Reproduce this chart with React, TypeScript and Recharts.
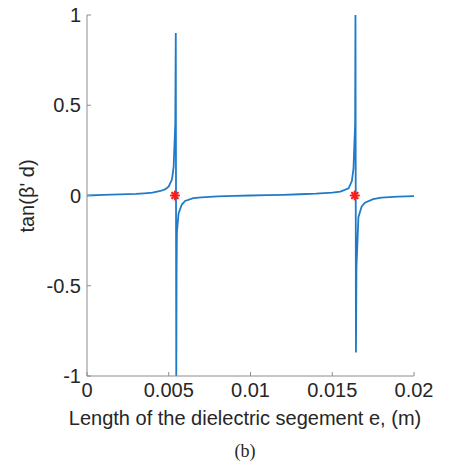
import {
  ComposedChart,
  Line,
  Scatter,
  XAxis,
  YAxis,
  Label,
} from 'recharts'

// curve samples: length e (m) vs tan(beta' d)
const lengths = [
  0, 0.001, 0.002, 0.003, 0.0035, 0.004, 0.0045, 0.0048, 0.005, 0.0052, 0.0053, 0.0054, 0.00543,
  0.00546, 0.00548, 0.0055, 0.0056, 0.0058, 0.006, 0.0065, 0.007, 0.008, 0.009, 0.01,
  0.011, 0.012, 0.013, 0.014, 0.015, 0.0155, 0.016, 0.0162, 0.0163, 0.0164, 0.01642,
  0.01645, 0.01648, 0.0166, 0.0168, 0.017, 0.0175, 0.018, 0.019, 0.02,
]
const tanValues = [
  0, 0.003, 0.006, 0.009, 0.012, 0.016, 0.025, 0.035, 0.05, 0.09, 0.16, 0.4, 0.9,
  -1.02, -0.4, -0.2, -0.1, -0.05, -0.03, -0.015, -0.01, -0.005, -0.002, 0,
  0.002, 0.004, 0.007, 0.01, 0.016, 0.022, 0.04, 0.08, 0.15, 0.4, 1.05,
  -0.87, -0.4, -0.12, -0.06, -0.04, -0.02, -0.012, -0.006, -0.003,
]

// zero crossings marked in red
const rootX = [0.00538, 0.01638]
const rootY = [0, 0]

const xTicks = [0, 0.005, 0.01, 0.015, 0.02]
const yTicks = [-1, -0.5, 0, 0.5, 1]

const curve = lengths.map((x, i) => ({ x, y: tanValues[i] }))
const roots = rootX.map((x, i) => ({ x, y: rootY[i] }))

const AXIS = '#8c8c8c'
const TEXT = '#262626'
const FONT = '"Liberation Sans", Arial, sans-serif'

const BottomTick = (props: any) => {
  const { x, y, payload } = props
  const axisY = y - 7
  return (
    <g>
      <line x1={x} x2={x} y1={axisY} y2={axisY - 4} stroke={AXIS} />
      <text x={x} y={y} dy="0.71em" textAnchor="middle" fill={TEXT} fontSize={20} fontFamily={FONT}>
        {payload.value}
      </text>
    </g>
  )
}

const LeftTick = (props: any) => {
  const { x, y, payload } = props
  const axisX = x + 6
  return (
    <g>
      <line x1={axisX} x2={axisX + 4} y1={y} y2={y} stroke={AXIS} />
      <text x={x} y={y} dy="0.35em" textAnchor="end" fill={TEXT} fontSize={20} fontFamily={FONT}>
        {payload.value}
      </text>
    </g>
  )
}

const TopTick = (props: any) => {
  const { x, y } = props
  return <line x1={x} x2={x} y1={y} y2={y + 4} stroke={AXIS} />
}

const RightTick = (props: any) => {
  const { x, y } = props
  return <line x1={x} x2={x - 4} y1={y} y2={y} stroke={AXIS} />
}

// MATLAB-style '*' marker
const Asterisk = (props: any) => {
  const { cx, cy } = props
  const r = 4
  const d = r * 0.7
  return (
    <g stroke="#ff1a1a" strokeWidth={2.2} strokeLinecap="round">
      <line x1={cx - r} x2={cx + r} y1={cy} y2={cy} />
      <line x1={cx} x2={cx} y1={cy - r} y2={cy + r} />
      <line x1={cx - d} x2={cx + d} y1={cy - d} y2={cy + d} />
      <line x1={cx - d} x2={cx + d} y1={cy + d} y2={cy - d} />
    </g>
  )
}

export default function App() {
  return (
    <div style={{ background: '#fff', width: 453, height: 464, margin: '-8px 0 0 -8px' }}>
      <ComposedChart width={453} height={464} margin={{ top: 15, right: 39, left: 27, bottom: 0 }}>
        <XAxis
          xAxisId="b"
          dataKey="x"
          type="number"
          domain={[0, 0.02]}
          ticks={xTicks}
          allowDataOverflow
          stroke={AXIS}
          tickLine={false}
          tickSize={0}
          tickMargin={7}
          tick={<BottomTick />}
          height={88}
        >
          <Label
            content={() => (
              <g>
                <text x={245} y={418} dominantBaseline="central" textAnchor="middle" fill={TEXT} fontSize={20} fontFamily={FONT}>
                  Length of the dielectric segement e, (m)
                </text>
                <text x={245} y={451} dominantBaseline="central" textAnchor="middle" fill={TEXT} fontSize={18} fontFamily='"Liberation Serif", "Times New Roman", serif'>
                  (b)
                </text>
              </g>
            )}
          />
        </XAxis>
        <XAxis
          xAxisId="t"
          orientation="top"
          dataKey="x"
          type="number"
          domain={[0, 0.02]}
          ticks={xTicks}
          allowDataOverflow
          stroke={AXIS}
          tickLine={false}
          tickSize={0}
          tickMargin={0}
          tick={<TopTick />}
          height={0}
        />
        <YAxis
          yAxisId="l"
          type="number"
          domain={[-1, 1]}
          ticks={yTicks}
          allowDataOverflow
          stroke={AXIS}
          tickLine={false}
          tickSize={0}
          tickMargin={6}
          tick={<LeftTick />}
          width={60}
        >
          <Label
            content={() => (
              <text
                x={27}
                y={196}
                transform="rotate(-90 27 196)"
                dominantBaseline="central"
                textAnchor="middle"
                fill={TEXT}
                fontSize={20}
                fontFamily={FONT}
              >
                tan(β' d)
              </text>
            )}
          />
        </YAxis>
        <YAxis
          yAxisId="r"
          orientation="right"
          type="number"
          domain={[-1, 1]}
          ticks={yTicks}
          allowDataOverflow
          stroke={AXIS}
          tickLine={false}
          tickSize={0}
          tickMargin={0}
          tick={<RightTick />}
          width={0}
        />
        <Line
          xAxisId="b"
          yAxisId="l"
          data={curve}
          dataKey="y"
          type="linear"
          stroke="#1f7bc8"
          strokeWidth={1.8}
          dot={false}
          isAnimationActive={false}
        />
        <Scatter
          xAxisId="b"
          yAxisId="l"
          data={roots}
          dataKey="y"
          shape={<Asterisk />}
          isAnimationActive={false}
        />
      </ComposedChart>
    </div>
  )
}
